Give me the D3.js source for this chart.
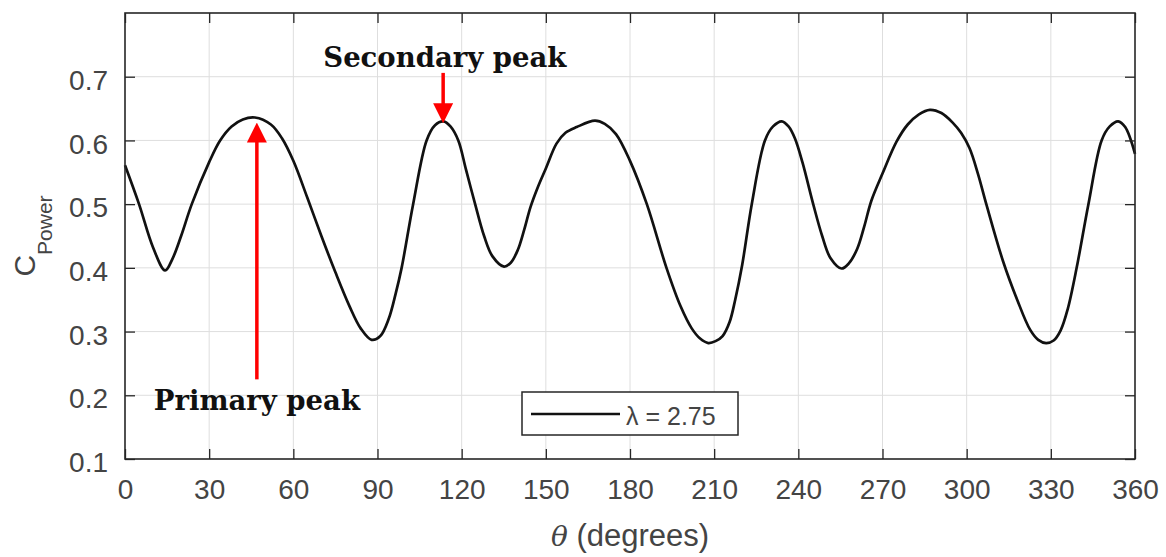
<!DOCTYPE html>
<html>
<head>
<meta charset="utf-8">
<script src="https://cdn.jsdelivr.net/npm/d3@7"></script>
<style>
  body { margin: 0; background: #fff; }
  svg { display: block; font-family: "Liberation Sans", Arial, sans-serif; }
</style>
</head>
<body>
<div id="chart"></div>
<script>
// angle (degrees) and power coefficient
var theta = [0, 5, 10, 14.3, 17, 20, 23.8, 30, 33.9, 38, 42, 46.3,
  52, 56, 60, 65, 70, 75, 80, 84, 87.9,
  91, 94, 96.5, 98.6, 102.7, 107.5, 110.5, 113.5,
  116, 118.8, 121.5, 124.8, 128, 131, 135.1,
  137.5, 140, 142.3, 144.5, 147, 150, 153.8, 157, 161, 167.5,
  171, 175, 180, 186, 193, 198, 202, 205, 207.9,
  210.5, 213, 215.5, 217.5, 220, 223.4, 228.1, 231, 234.1,
  236.5, 238.8, 241.5, 245.3, 248.5, 251.5, 255.4,
  258, 261, 263.5, 266, 270, 275, 279, 283, 286.9,
  291, 295, 298, 301, 304, 307, 313, 318, 322.6, 325.5, 328.3,
  331, 333.5, 336, 339.2, 343.4, 348.1, 351, 354, 356.5, 360];
var cpower = [0.561, 0.500, 0.432, 0.396, 0.415, 0.45, 0.50, 0.566, 0.60, 0.622, 0.633, 0.636,
  0.625, 0.603, 0.568, 0.51, 0.45, 0.393, 0.34, 0.305, 0.287,
  0.293, 0.32, 0.36, 0.40, 0.50, 0.60, 0.624, 0.630,
  0.622, 0.60, 0.555, 0.50, 0.45, 0.418, 0.402,
  0.408, 0.428, 0.46, 0.495, 0.525, 0.556, 0.595, 0.612, 0.621, 0.631,
  0.626, 0.61, 0.568, 0.50, 0.40, 0.34, 0.305, 0.289, 0.282,
  0.285, 0.293, 0.315, 0.35, 0.405, 0.50, 0.60, 0.622, 0.630,
  0.622, 0.603, 0.565, 0.50, 0.45, 0.415, 0.399,
  0.407, 0.43, 0.465, 0.505, 0.548, 0.598, 0.625, 0.641, 0.648,
  0.643, 0.628, 0.612, 0.588, 0.548, 0.50, 0.41, 0.35, 0.303, 0.287, 0.282,
  0.286, 0.302, 0.335, 0.40, 0.50, 0.60, 0.622, 0.630, 0.621, 0.579];

var xTicks = [0, 30, 60, 90, 120, 150, 180, 210, 240, 270, 300, 330, 360];
var yTicks = [0.1, 0.2, 0.3, 0.4, 0.5, 0.6, 0.7];
var legendLabel = 'λ = 2.75';

// annotations: label position, arrow tail and tip in data units
var notes = [
  { label: 'Primary peak', tx: 47, ty: 0.177, from: [47, 0.225], to: [47, 0.628] },
  { label: 'Secondary peak', tx: 114, ty: 0.715, from: [113.4, 0.706], to: [113.4, 0.627] }
];

var width = 1166, height = 557;
var margin = { top: 13, right: 31, bottom: 98, left: 125 };

var svg = d3.select('#chart').append('svg')
  .attr('width', width)
  .attr('height', height);

var x = d3.scaleLinear().domain([0, 360]).range([margin.left, width - margin.right]);
var y = d3.scaleLinear().domain([0.1, 0.8]).range([height - margin.bottom, margin.top]);

var axisColor = '#262626';
var labelColor = '#444';

// grid
svg.append('g').selectAll('line').data(xTicks.slice(1, -1)).enter().append('line')
  .attr('x1', function (d) { return x(d); }).attr('x2', function (d) { return x(d); })
  .attr('y1', y(0.1)).attr('y2', y(0.8))
  .attr('stroke', '#dedede').attr('stroke-width', 1);
svg.append('g').selectAll('line').data(yTicks.slice(1)).enter().append('line')
  .attr('y1', function (d) { return y(d); }).attr('y2', function (d) { return y(d); })
  .attr('x1', x(0)).attr('x2', x(360))
  .attr('stroke', '#dedede').attr('stroke-width', 1);

// curve
var line = d3.line()
  .x(function (d, i) { return x(theta[i]); })
  .y(function (d) { return y(d); })
  .curve(d3.curveCatmullRom.alpha(0.5));

svg.append('path')
  .datum(cpower)
  .attr('d', line)
  .attr('fill', 'none')
  .attr('stroke', '#111')
  .attr('stroke-width', 2.7)
  .attr('stroke-linejoin', 'round');

// axes (ticks point inward, as in MATLAB)
function styleAxis(g) {
  g.select('.domain').remove();
  g.selectAll('.tick line').attr('stroke', axisColor).attr('stroke-width', 1.3);
  g.selectAll('.tick text').attr('fill', labelColor).attr('font-size', 28)
    .attr('font-family', '"Liberation Sans", Arial, sans-serif');
}

svg.append('g')
  .attr('transform', 'translate(0,' + y(0.1) + ')')
  .call(d3.axisBottom(x).tickValues(xTicks).tickSize(-10).tickPadding(20).tickFormat(d3.format('d')))
  .call(styleAxis);
svg.append('g')
  .attr('transform', 'translate(0,' + y(0.8) + ')')
  .call(d3.axisTop(x).tickValues(xTicks).tickSize(-10).tickFormat(''))
  .call(styleAxis);
svg.append('g')
  .attr('transform', 'translate(' + x(0) + ',0)')
  .call(d3.axisLeft(y).tickValues(yTicks).tickSize(-10).tickPadding(17).tickFormat(d3.format('.1f')))
  .call(styleAxis)
  .selectAll('.tick text').attr('dy', '0.45em');
svg.append('g')
  .attr('transform', 'translate(' + x(360) + ',0)')
  .call(d3.axisRight(y).tickValues(yTicks).tickSize(-10).tickFormat(''))
  .call(styleAxis);

svg.append('rect')
  .attr('x', x(0)).attr('y', y(0.8))
  .attr('width', x(360) - x(0)).attr('height', y(0.1) - y(0.8))
  .attr('fill', 'none').attr('stroke', axisColor).attr('stroke-width', 1.6);

// axis labels
var xl = svg.append('text')
  .attr('x', (x(0) + x(360)) / 2).attr('y', 546)
  .attr('text-anchor', 'middle')
  .attr('font-size', 31).attr('fill', labelColor);
xl.append('tspan').attr('font-style', 'italic').attr('font-family', '"DejaVu Serif", serif').attr('font-size', 28).text('θ');
xl.append('tspan').text(' (degrees)');

var yl = svg.append('text')
  .attr('transform', 'translate(35,' + ((y(0.1) + y(0.8)) / 2) + ') rotate(-90)')
  .attr('text-anchor', 'middle')
  .attr('font-size', 30).attr('fill', labelColor);
yl.append('tspan').text('C');
yl.append('tspan').attr('font-size', 21).attr('dy', 17).text('Power');

// annotations: red arrows, head drawn by a marker centred on the line end
svg.append('defs').append('marker')
  .attr('id', 'head')
  .attr('viewBox', '0 0 10 10')
  .attr('refX', 5).attr('refY', 5)
  .attr('markerUnits', 'userSpaceOnUse')
  .attr('markerWidth', 20).attr('markerHeight', 20)
  .attr('orient', 'auto')
  .append('path').attr('d', 'M0,0 L10,5 L0,10 Z').attr('fill', '#ff0000');

svg.append('g').selectAll('line').data(notes).enter().append('line')
  .attr('x1', function (d) { return x(d.from[0]); })
  .attr('y1', function (d) { return y(d.from[1]); })
  .attr('x2', function (d) { return x(d.to[0]); })
  .attr('y2', function (d) { return y(d.to[1]) + (d.to[1] > d.from[1] ? 10 : -10); })
  .attr('stroke', '#ff0000').attr('stroke-width', 3.5)
  .attr('marker-end', 'url(#head)');

svg.append('g').selectAll('text').data(notes).enter().append('text')
  .attr('x', function (d) { return x(d.tx); })
  .attr('y', function (d) { return y(d.ty); })
  .attr('text-anchor', 'middle')
  .attr('font-family', '"DejaVu Serif", serif')
  .attr('font-weight', 'bold')
  .attr('font-size', 27.5)
  .attr('fill', '#111')
  .text(function (d) { return d.label; });

// legend
var leg = svg.append('g').attr('transform', 'translate(522,392)');
leg.append('rect').attr('width', 216).attr('height', 43)
  .attr('fill', '#fff').attr('stroke', axisColor).attr('stroke-width', 1.5);
leg.append('line').attr('x1', 9).attr('x2', 98).attr('y1', 22).attr('y2', 22)
  .attr('stroke', '#111').attr('stroke-width', 2.7);
leg.append('text').attr('x', 104).attr('y', 33)
  .attr('font-size', 25).attr('fill', labelColor)
  .text(legendLabel);
</script>
</body>
</html>
